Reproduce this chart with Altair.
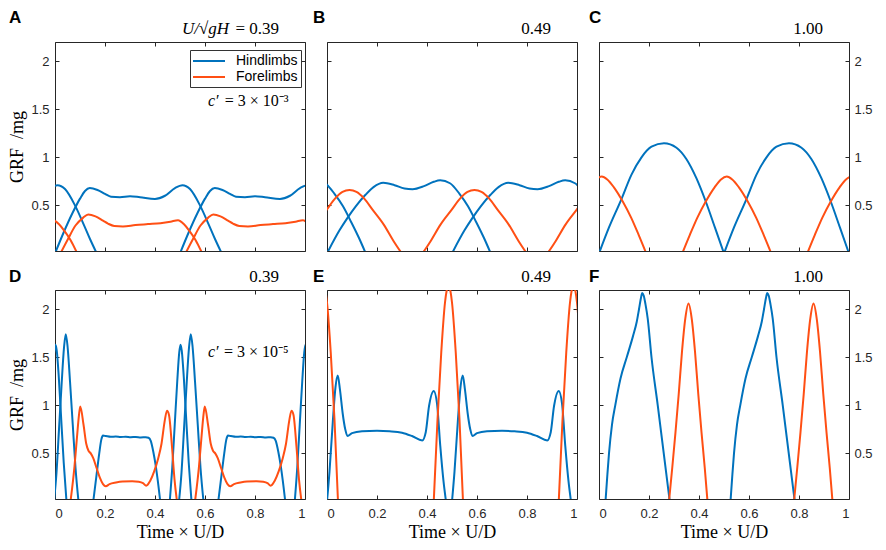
import altair as alt
import pandas as pd

BLUE = "#0072BD"
ORANGE = "#FF4F14"
AX = "#262626"
SANS = "Liberation Sans"
SERIF = "Liberation Serif"

# ---------------- data ----------------
# Each profile: time since contact onset (t) and GRF/mg (f); onsets are the observed contact starts.
# Panel A (U/sqrt(gH)=0.39, c'=3e-3)
A_hind_t = [0, 0.035, 0.07, 0.10, 0.12, 0.139, 0.17, 0.20, 0.224, 0.26, 0.30, 0.34, 0.40, 0.44, 0.48, 0.51, 0.54, 0.58, 0.615, 0.64, 0.667]
A_hind_f = [0, 0.22, 0.42, 0.57, 0.65, 0.68, 0.66, 0.62, 0.59, 0.585, 0.595, 0.585, 0.567, 0.60, 0.68, 0.71, 0.67, 0.50, 0.30, 0.15, 0]
A_hind_on = [-0.5, 0.0, 0.5]
A_fore_t = [0, 0.03, 0.06, 0.09, 0.111, 0.14, 0.17, 0.19, 0.215, 0.25, 0.30, 0.35, 0.40, 0.44, 0.47, 0.495, 0.514, 0.54, 0.567]
A_fore_f = [0, 0.15, 0.29, 0.37, 0.405, 0.385, 0.34, 0.31, 0.285, 0.28, 0.295, 0.305, 0.315, 0.33, 0.345, 0.30, 0.24, 0.14, 0]
A_fore_on = [-0.478, 0.022, 0.522]

# Panel B (0.49)
B_hind_t = [0, 0.05, 0.082, 0.115, 0.154, 0.186, 0.225, 0.27, 0.31, 0.342, 0.388, 0.427, 0.453, 0.492, 0.53, 0.564, 0.596, 0.628, 0.655]
B_hind_f = [0, 0.24, 0.37, 0.49, 0.61, 0.69, 0.735, 0.71, 0.675, 0.668, 0.70, 0.745, 0.76, 0.73, 0.62, 0.49, 0.33, 0.16, 0]
B_hind_on = [-0.5, 0.0, 0.5]
B_fore_t = [0, 0.033, 0.072, 0.117, 0.15, 0.18, 0.208, 0.236, 0.267, 0.30, 0.345, 0.384, 0.417]
B_fore_f = [0, 0.13, 0.30, 0.456, 0.57, 0.64, 0.66, 0.64, 0.57, 0.456, 0.30, 0.13, 0]
B_fore_on = [-0.118, 0.382, 0.882]

# Panel C (1.00)
C_hind_t = [0, 0.04, 0.089, 0.13, 0.17, 0.21, 0.26, 0.31, 0.35, 0.39, 0.427, 0.465, 0.5]
C_hind_f = [0, 0.27, 0.56, 0.82, 1.0, 1.11, 1.146, 1.10, 0.98, 0.78, 0.54, 0.26, 0]
C_hind_on = [0.0, 0.5]
C_fore_t = [0, 0.03, 0.06, 0.094, 0.13, 0.155, 0.178, 0.20, 0.226, 0.262, 0.296, 0.326, 0.356]
C_fore_f = [0, 0.19, 0.37, 0.54, 0.69, 0.77, 0.80, 0.77, 0.69, 0.54, 0.37, 0.19, 0]
C_fore_on = [-0.167, 0.333, 0.833]

# Panel D (0.39, c'=3e-5)
D_peak1_t = [0, 0.01, 0.02, 0.03, 0.038, 0.043, 0.048, 0.056, 0.066, 0.076, 0.087]
D_peak1_f = [0, 0.35, 0.8, 1.25, 1.55, 1.63, 1.57, 1.3, 0.85, 0.4, 0]
D_peak1_on = [-0.041, 0.459, 0.959]
D_peak2_t = [0, 0.01, 0.02, 0.03, 0.04, 0.047, 0.054, 0.064, 0.075, 0.086, 0.098]
D_peak2_f = [0, 0.3, 0.75, 1.2, 1.6, 1.74, 1.62, 1.25, 0.8, 0.35, 0]
D_peak2_on = [-0.004, 0.496]
D_plat_t = [0, 0.012, 0.024, 0.032, 0.039, 0.05, 0.07, 0.09, 0.11, 0.13, 0.15, 0.17, 0.19, 0.21, 0.221, 0.23, 0.24, 0.25, 0.258, 0.268]
D_plat_f = [0, 0.25, 0.5, 0.64, 0.685, 0.68, 0.672, 0.676, 0.67, 0.673, 0.668, 0.671, 0.666, 0.668, 0.662, 0.63, 0.52, 0.37, 0.22, 0]
D_plat_on = [0.153, 0.653]
D_fore_t = [0, 0.016, 0.026, 0.034, 0.039, 0.052, 0.063, 0.072, 0.081, 0.091, 0.104, 0.117, 0.130, 0.141, 0.156, 0.182, 0.208, 0.247, 0.273, 0.290, 0.303, 0.319, 0.335, 0.351, 0.364, 0.377, 0.386, 0.394, 0.406, 0.416, 0.426]
D_fore_f = [0, 0.365, 0.67, 0.90, 0.988, 0.80, 0.60, 0.527, 0.50, 0.45, 0.35, 0.25, 0.18, 0.157, 0.18, 0.197, 0.207, 0.21, 0.204, 0.19, 0.163, 0.215, 0.315, 0.45, 0.60, 0.84, 0.944, 0.90, 0.567, 0.23, 0]
D_fore_on = [0.062, 0.560]

# Panel E (0.49)
E_hind_t = [0, 0.01, 0.023, 0.034, 0.043, 0.052, 0.0625, 0.073, 0.082, 0.10, 0.14, 0.20, 0.25, 0.30, 0.34, 0.381, 0.395, 0.408, 0.427, 0.44, 0.453, 0.466, 0.476]
E_hind_f = [0, 0.31, 0.82, 1.19, 1.31, 1.16, 0.92, 0.75, 0.68, 0.71, 0.73, 0.735, 0.73, 0.715, 0.68, 0.635, 0.72, 0.99, 1.15, 1.02, 0.58, 0.21, 0]
E_hind_on = [0.0, 0.5]
E_fore_t = [0, 0.015, 0.03, 0.045, 0.052, 0.059, 0.066, 0.073, 0.088, 0.103, 0.117]
E_fore_f = [0, 0.85, 1.55, 2.07, 2.2, 2.27, 2.2, 2.07, 1.55, 0.85, 0]
E_fore_on = [-0.073, 0.427, 0.927]

# Panel F (1.00)
F_hind_t = [0, 0.007, 0.014, 0.026, 0.039, 0.06, 0.085, 0.11, 0.125, 0.134, 0.142, 0.147, 0.153, 0.16, 0.169, 0.184, 0.209, 0.233, 0.257]
F_hind_f = [0, 0.26, 0.5, 0.8, 1.0, 1.28, 1.5, 1.72, 1.87, 2.0, 2.12, 2.17, 2.14, 2.05, 1.9, 1.5, 1.0, 0.5, 0]
F_hind_on = [0.026, 0.526]
F_fore_t = [0, 0.013, 0.026, 0.039, 0.052, 0.065, 0.078, 0.091, 0.104, 0.117, 0.13, 0.143, 0.154]
F_fore_f = [0, 0.35, 0.72, 1.12, 1.56, 1.9, 2.06, 1.9, 1.56, 1.12, 0.72, 0.35, 0]
F_fore_on = [0.28, 0.78]

LIMBS = ["Hindlimbs", "Forelimbs"]
PANEL_LETTERS = ["A", "B", "C", "D", "E", "F"]
SPEED_LABELS = ["0.39", "0.49", "1.00", "0.39", "0.49", "1.00"]
DAMPING_LABELS = ["3 × 10⁻³", "3 × 10⁻⁵"]
X_TICKS = [0, 0.2, 0.4, 0.6, 0.8, 1]
Y_TICKS = [0.5, 1, 1.5, 2]

HIND = [
    [("a", A_hind_t, A_hind_f, A_hind_on)],
    [("b", B_hind_t, B_hind_f, B_hind_on)],
    [("c", C_hind_t, C_hind_f, C_hind_on)],
    [("p", D_peak1_t, D_peak1_f, D_peak1_on), ("q", D_peak2_t, D_peak2_f, D_peak2_on),
     ("r", D_plat_t, D_plat_f, D_plat_on)],
    [("e", E_hind_t, E_hind_f, E_hind_on)],
    [("f", F_hind_t, F_hind_f, F_hind_on)],
]
FORE = [
    [("a", A_fore_t, A_fore_f, A_fore_on)],
    [("b", B_fore_t, B_fore_f, B_fore_on)],
    [("c", C_fore_t, C_fore_f, C_fore_on)],
    [("d", D_fore_t, D_fore_f, D_fore_on)],
    [("e", E_fore_t, E_fore_f, E_fore_on)],
    [("f", F_fore_t, F_fore_f, F_fore_on)],
]


def build(specs, limb):
    rows = []
    for name, t, f, ons in specs:
        for k, o in enumerate(ons):
            for ti, fi in zip(t, f):
                rows.append({"x": round(o + ti, 4), "y": fi, "seg": f"{limb}-{name}{k}", "limb": limb})
    return pd.DataFrame(rows)


# ---------------- layout ----------------
W, H = 250, 209
TICK = 4
YMIN, YMAX = 0.025, 2.2
LETTER_DX = [-46, -14, -10]
LETTER_DY = [-19, -8]


def txt(s, x, y, font, size, weight="normal", style="normal", align="left"):
    return alt.Chart(pd.DataFrame({"s": [s]})).mark_text(
        font=font, fontSize=size, fontWeight=weight, fontStyle=style,
        align=align, baseline="alphabetic", color="black"
    ).encode(x=alt.value(x), y=alt.value(y), text="s:N")


def panel(idx):
    row, col = divmod(idx, 3)
    bottom = row == 1
    hind_df = build(HIND[idx], LIMBS[0])
    fore_df = build(FORE[idx], LIMBS[1])

    xs = alt.Scale(domain=[0, 1], nice=False, zero=False)
    ys = alt.Scale(domain=[YMIN, YMAX], nice=False, zero=False)
    cs = alt.Scale(domain=LIMBS, range=[BLUE, ORANGE])
    common = dict(grid=False, domain=False, ticks=True, tickSize=TICK, offset=-TICK,
                  tickColor=AX, tickWidth=1, labelFont=SANS, labelFontSize=13, labelColor=AX)

    x_main = alt.Axis(orient="bottom", values=X_TICKS, format="~g", labels=bottom, labelPadding=8,
                      titleFont=SERIF, titleFontSize=18, titleFontWeight="normal",
                      titleColor="black", titlePadding=3, **common)
    x_top = alt.Axis(orient="top", values=X_TICKS, labels=False, **common)

    if col == 0:
        y_main = alt.Axis(orient="left", values=Y_TICKS, format="~g", labels=True, labelPadding=6,
                          titleFont=SERIF, titleFontSize=18, titleFontWeight="normal",
                          titleColor="black", titlePadding=4, **common)
        y_mirror = alt.Axis(orient="right", values=Y_TICKS, labels=False, **common)
        ytitle = "GRF\u00a0\u00a0/mg"
    elif col == 1:
        y_main = alt.Axis(orient="left", values=Y_TICKS, labels=False, **common)
        y_mirror = alt.Axis(orient="right", values=Y_TICKS, labels=False, **common)
        ytitle = None
    else:
        y_main = alt.Axis(orient="right", values=Y_TICKS, format="~g", labels=True, labelPadding=5, **common)
        y_mirror = alt.Axis(orient="left", values=Y_TICKS, labels=False, **common)
        ytitle = None

    if idx == 0:
        leg = alt.Legend(orient="none", legendX=W - 115, legendY=8, title=None,
                         symbolType="M-2.2857,0H2.2857", symbolSize=196, symbolStrokeWidth=2,
                         symbolOffset=8, labelOffset=19,
                         labelFont=SANS, labelFontSize=14, labelColor="black",
                         strokeColor="#333333", fillColor="white", padding=3,
                         rowPadding=1,
                         labelExpr="datum.label + '\u00a0\u00a0\u00a0'")
    else:
        leg = None

    xtitle = "Time × U/D" if bottom else None

    hind = alt.Chart(hind_df).mark_line(clip=True, strokeWidth=2, interpolate="monotone").encode(
        x=alt.X("x:Q", scale=xs, axis=x_main, title=xtitle),
        y=alt.Y("y:Q", scale=ys, axis=y_main, title=ytitle),
        color=alt.Color("limb:N", scale=cs, legend=leg),
        detail="seg:N",
    )
    fore = alt.Chart(fore_df).mark_line(clip=True, strokeWidth=2, interpolate="monotone").encode(
        x=alt.X("x:Q", scale=xs, axis=None),
        y=alt.Y("y:Q", scale=ys, axis=None),
        color=alt.Color("limb:N", scale=cs, legend=leg),
        detail="seg:N",
    )
    mirror = alt.Chart(hind_df).mark_line(opacity=0, clip=True).encode(
        x=alt.X("x:Q", scale=xs, axis=x_top, title=None),
        y=alt.Y("y:Q", scale=ys, axis=y_mirror, title=None),
        detail="seg:N",
    )

    layers = [hind, fore, mirror]
    layers.append(txt(PANEL_LETTERS[idx], LETTER_DX[col], LETTER_DY[row], SANS, 17, weight="bold"))
    if idx == 0:
        layers.append(txt("= " + SPEED_LABELS[idx], W - 26, -8, SERIF, 17, align="right"))
        layers.append(txt("U/√gH", W - 76, -8, SERIF, 17, style="italic", align="right"))
    else:
        layers.append(txt(SPEED_LABELS[idx], W - 26, -8, SERIF, 17, align="right"))
    if col == 0:
        cy = 0.307 * H if row == 0 else 0.321 * H
        cx = 0.934 * W
        layers.append(txt("= " + DAMPING_LABELS[row], cx, cy, SERIF, 16, align="right"))
        layers.append(txt("c′", cx - 70, cy, SERIF, 16, style="italic", align="right"))

    return alt.layer(*layers).properties(width=W, height=H).resolve_axis(x="independent", y="independent")


chart = alt.concat(
    *[panel(i) for i in range(6)], columns=3, spacing={"row": 39, "column": 22}, bounds="flush"
).resolve_scale(color="independent").properties(
    padding=0, background="white"
).configure_view(stroke=AX, strokeWidth=1, fill="white")

chart.save("out.html", embed_options={"renderer": "svg", "actions": False})
